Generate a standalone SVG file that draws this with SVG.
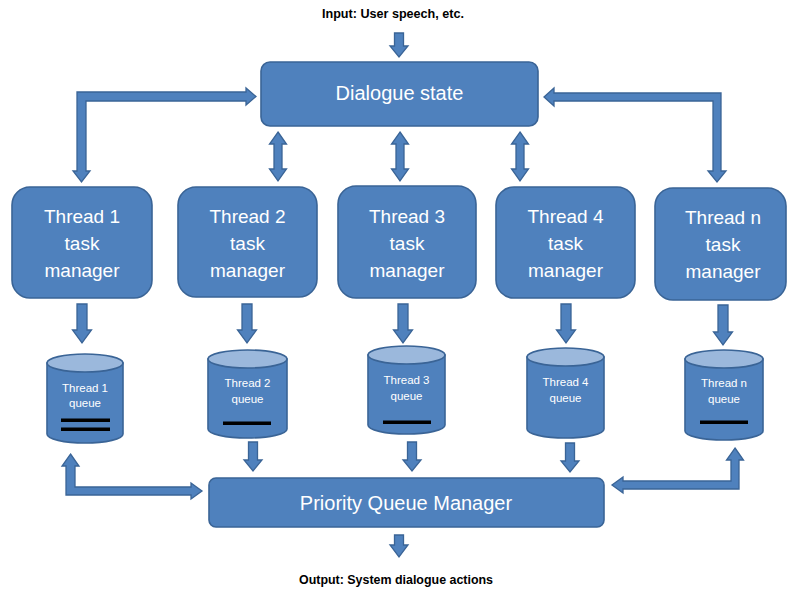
<svg xmlns="http://www.w3.org/2000/svg" width="787" height="590" viewBox="0 0 787 590">
<style>
.box{fill:#4F81BD;stroke:#3A6496;stroke-width:1.6}
.arr{fill:#4F81BD;stroke:#3A6496;stroke-width:1.3;stroke-linejoin:miter}
.cyl{fill:#4F81BD;stroke:#3A6496;stroke-width:1.6}
.cyltop{fill:#9BB8DC;stroke:#3A6496;stroke-width:1.6}
.bar{fill:#000}
.big{font-family:"Liberation Sans",Arial,sans-serif;fill:#fff;text-anchor:middle}
.small{font-family:"Liberation Sans",Arial,sans-serif;fill:#fff;text-anchor:middle;font-size:11.5px}
.cap{font-family:"Liberation Sans",Arial,sans-serif;fill:#000;font-weight:bold;font-size:12px;text-anchor:middle}
</style>
<rect width="787" height="590" fill="#fff"/>

<g id="input-label"><text class="cap" x="393" y="18" textLength="142" lengthAdjust="spacingAndGlyphs">Input: User speech, etc.</text></g>
<g id="output-label"><text class="cap" x="396" y="584" textLength="194" lengthAdjust="spacingAndGlyphs">Output: System dialogue actions</text></g>

<g id="connectors">
  <polygon class="arr" points="394.5,33 403.5,33 403.5,46 408,46 399,57 390,46 394.5,46"/>
  <polygon class="arr" points="394.5,535 403.5,535 403.5,545 408,545 399,557 390,545 394.5,545"/>
  <polygon class="arr" points="256,96.5 246,88 246,92 77,92 77,171 73,171 81.5,182 90,171 86,171 86,101 246,101 246,105"/>
  <polygon class="arr" points="544,97 554,88 554,93 721,93 721,171 726,171 717,182 708,171 713,171 713,101 554,101 554,106"/>
  <polygon class="arr" points="278,132 286.5,144 282,144 282,169 286.5,169 278,181 269.5,169 274,169 274,144 269.5,144"/>
  <polygon class="arr" points="400,132 408.5,144 404,144 404,169 408.5,169 400,181 391.5,169 396,169 396,144 391.5,144"/>
  <polygon class="arr" points="520,132 528.5,144 524,144 524,169 528.5,169 520,181 511.5,169 516,169 516,144 511.5,144"/>
  <polygon class="arr" points="77,304 87,304 87,330 91.5,330 82,343 72.5,330 77,330"/>
  <polygon class="arr" points="242,304 252,304 252,330 256.5,330 247,343 237.5,330 242,330"/>
  <polygon class="arr" points="398,304 408,304 408,330 412.5,330 403,343 393.5,330 398,330"/>
  <polygon class="arr" points="561,304 571,304 571,330 575.5,330 566,343 556.5,330 561,330"/>
  <polygon class="arr" points="718,305 728,305 728,332 732.5,332 723,345 713.5,332 718,332"/>
  <polygon class="arr" points="248.5,442 257.5,442 257.5,460 262,460 253,471 244,460 248.5,460"/>
  <polygon class="arr" points="407.5,442 416.5,442 416.5,460 421,460 412,471 403,460 407.5,460"/>
  <polygon class="arr" points="565.5,443 574.5,443 574.5,461 579,461 570,472 561,461 565.5,461"/>
  <polygon class="arr" points="70.5,454 79,466 75,466 75,487 191,487 191,483 202,491 191,499 191,495 66,495 66,466 62,466"/>
  <polygon class="arr" points="735,448 743.5,460 739,460 739,489 623,489 623,493 612,485 623,477 623,481 731,481 731,460 726.5,460"/>
</g>

<g id="dialogue-state">
  <rect class="box" x="261" y="62" width="277" height="64" rx="9"/>
  <text class="big" x="399.5" y="100" font-size="20">Dialogue state</text>
</g>

<g id="thread1-task-manager">
  <rect class="box" x="12" y="187" width="140" height="111" rx="18"/>
  <text class="big" font-size="19"><tspan x="82" y="223">Thread 1</tspan><tspan x="82" y="250">task</tspan><tspan x="82" y="277">manager</tspan></text>
</g>
<g id="thread2-task-manager">
  <rect class="box" x="178" y="187" width="139" height="110" rx="18"/>
  <text class="big" font-size="19"><tspan x="247.5" y="223">Thread 2</tspan><tspan x="247.5" y="250">task</tspan><tspan x="247.5" y="277">manager</tspan></text>
</g>
<g id="thread3-task-manager">
  <rect class="box" x="338" y="186" width="138" height="112" rx="18"/>
  <text class="big" font-size="19"><tspan x="407" y="223">Thread 3</tspan><tspan x="407" y="250">task</tspan><tspan x="407" y="277">manager</tspan></text>
</g>
<g id="thread4-task-manager">
  <rect class="box" x="496" y="187" width="139" height="111" rx="18"/>
  <text class="big" font-size="19"><tspan x="565.5" y="223">Thread 4</tspan><tspan x="565.5" y="250">task</tspan><tspan x="565.5" y="277">manager</tspan></text>
</g>
<g id="threadn-task-manager">
  <rect class="box" x="655" y="188" width="131" height="112" rx="18"/>
  <text class="big" font-size="19"><tspan x="723" y="224">Thread n</tspan><tspan x="723" y="251">task</tspan><tspan x="723" y="278">manager</tspan></text>
</g>

<g id="thread1-queue">
  <path class="cyl" d="M47,363 L47,434 A38,9 0 0 0 123,434 L123,363 Z"/>
  <ellipse class="cyltop" cx="85" cy="363" rx="38" ry="9"/>
  <text class="small"><tspan x="85" y="392">Thread 1</tspan><tspan x="85" y="407">queue</tspan></text>
  <rect class="bar" x="61" y="418.5" width="49" height="3.5"/>
  <rect class="bar" x="61" y="427.5" width="49" height="3.5"/>
</g>
<g id="thread2-queue">
  <path class="cyl" d="M208,359 L208,429 A39.5,9 0 0 0 287,429 L287,359 Z"/>
  <ellipse class="cyltop" cx="247.5" cy="359" rx="39.5" ry="9"/>
  <text class="small"><tspan x="247.5" y="387">Thread 2</tspan><tspan x="247.5" y="403">queue</tspan></text>
  <rect class="bar" x="223" y="421.5" width="48" height="3.5"/>
</g>
<g id="thread3-queue">
  <path class="cyl" d="M368,355 L368,425 A38.5,9 0 0 0 445,425 L445,355 Z"/>
  <ellipse class="cyltop" cx="406.5" cy="355" rx="38.5" ry="9"/>
  <text class="small"><tspan x="406.5" y="384">Thread 3</tspan><tspan x="406.5" y="400">queue</tspan></text>
  <rect class="bar" x="383" y="420.5" width="48" height="3.5"/>
</g>
<g id="thread4-queue">
  <path class="cyl" d="M527,357 L527,429 A38.5,9 0 0 0 604,429 L604,357 Z"/>
  <ellipse class="cyltop" cx="565.5" cy="357" rx="38.5" ry="9"/>
  <text class="small"><tspan x="565.5" y="386">Thread 4</tspan><tspan x="565.5" y="402">queue</tspan></text>
</g>
<g id="threadn-queue">
  <path class="cyl" d="M685,359 L685,431 A39,9 0 0 0 763,431 L763,359 Z"/>
  <ellipse class="cyltop" cx="724" cy="359" rx="39" ry="9"/>
  <text class="small"><tspan x="724" y="387">Thread n</tspan><tspan x="724" y="403">queue</tspan></text>
  <rect class="bar" x="700" y="420.5" width="48" height="3.5"/>
</g>

<g id="priority-queue-manager">
  <rect class="box" x="209" y="478" width="395" height="49" rx="7"/>
  <text class="big" x="406" y="510" font-size="20">Priority Queue Manager</text>
</g>
</svg>
